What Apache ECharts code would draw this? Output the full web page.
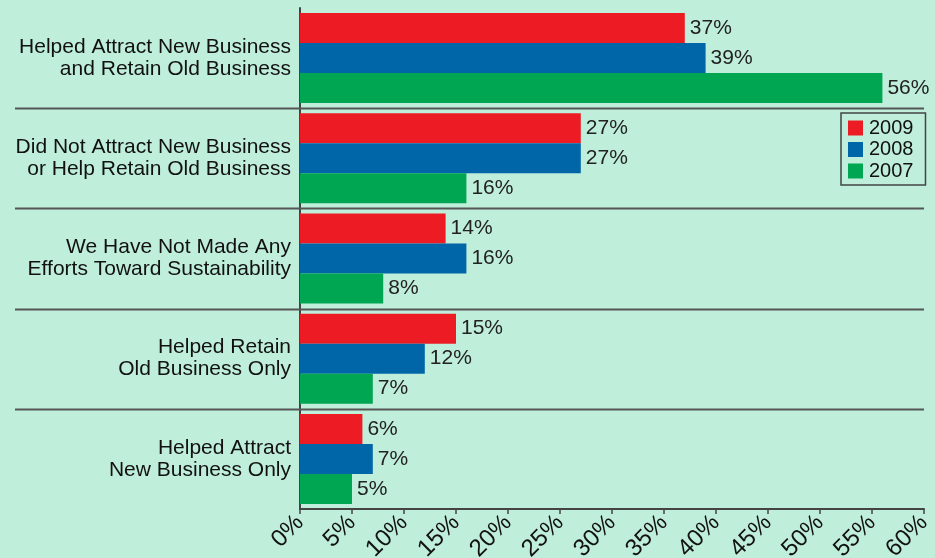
<!DOCTYPE html>
<html>
<head>
<meta charset="utf-8">
<script src="https://cdn.jsdelivr.net/npm/echarts@6/dist/echarts.min.js"></script>
<style>
  html, body { margin: 0; padding: 0; background: #bfeedb; }
  #chart { width: 935px; height: 558px; }
</style>
</head>
<body>
<div id="chart"></div>
<script>
// Survey outcomes of sustainability efforts, by year
const categories = [
  'Helped Attract New Business\nand Retain Old Business',
  'Did Not Attract New Business\nor Help Retain Old Business',
  'We Have Not Made Any\nEfforts Toward Sustainability',
  'Helped Retain\nOld Business Only',
  'Helped Attract\nNew Business Only'
];
const years = ['2009', '2008', '2007'];
const values2009 = [37, 27, 14, 15, 6];
const values2008 = [39, 27, 16, 12, 7];
const values2007 = [56, 16, 8, 7, 5];
const xTicks = { min: 0, max: 60, interval: 5 };

const FONT = '"Liberation Sans", Arial, Helvetica, sans-serif';
const colors = ['#ed1c24', '#0066a8', '#00a651'];
const seriesValues = [values2009, values2008, values2007];

const chart = echarts.init(document.getElementById('chart'), null, { renderer: 'canvas' });

const option = {
  backgroundColor: '#bfeedb',
  animation: false,
  textStyle: { fontFamily: FONT },
  grid: {
    left: 300, right: 11, top: 8, bottom: 49,
    containLabel: false,
    outerBoundsMode: 'none'
  },
  legend: {
    data: years,
    orient: 'vertical',
    left: 841,
    top: 113,
    itemWidth: 15,
    itemHeight: 15,
    itemGap: 1.5,
    padding: [5, 12, 4, 7],
    borderColor: '#444',
    borderWidth: 1.5,
    icon: 'rect',
    textStyle: { fontFamily: FONT, fontSize: 20, color: '#111', padding: [0, 0, 0, 1] }
  },
  xAxis: {
    type: 'value',
    min: xTicks.min,
    max: xTicks.max,
    interval: xTicks.interval,
    axisLine: { show: true, lineStyle: { color: '#444', width: 2 } },
    axisTick: { show: true, length: 5, lineStyle: { color: '#444', width: 1.5 } },
    splitLine: { show: false },
    axisLabel: {
      formatter: '{value}%',
      rotate: 45,
      margin: 10,
      fontFamily: FONT,
      fontSize: 24,
      color: '#111'
    }
  },
  yAxis: {
    type: 'category',
    data: categories,
    inverse: true,
    axisLine: { show: true, lineStyle: { color: '#444', width: 2 } },
    axisTick: { show: false },
    splitLine: { show: false },
    axisLabel: {
      margin: 9,
      fontFamily: FONT,
      fontSize: 21,
      lineHeight: 22,
      color: '#111',
      align: 'right'
    }
  },
  series: years.map((y, i) => ({
    name: y,
    type: 'bar',
    data: seriesValues[i],
    barWidth: 30,
    barGap: '0%',
    itemStyle: { color: colors[i] },
    label: {
      show: true,
      position: 'right',
      distance: 5,
      formatter: '{c}%',
      fontFamily: FONT,
      fontSize: 21,
      color: '#222'
    }
  }))
};

chart.setOption(option);

// Dividers between category bands, extending left under the labels
function drawDividers() {
  const left = 15;
  const right = chart.convertToPixel({ xAxisIndex: 0 }, xTicks.max);
  const c0 = chart.convertToPixel({ yAxisIndex: 0 }, categories[0]);
  const c1 = chart.convertToPixel({ yAxisIndex: 0 }, categories[1]);
  const band = c1 - c0;
  const lines = [];
  for (let i = 0; i < categories.length - 1; i++) {
    const y = Math.round(c0 + band * (i + 0.5)) + 0.5;
    lines.push({
      type: 'line',
      shape: { x1: left, y1: y, x2: right, y2: y },
      style: { stroke: '#555', lineWidth: 2 },
      z: 1
    });
  }
  chart.setOption({ graphic: lines });
}
drawDividers();
</script>
</body>
</html>
